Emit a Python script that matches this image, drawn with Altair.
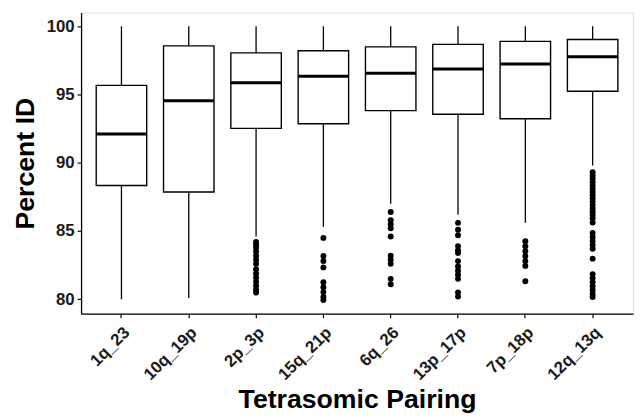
import altair as alt
import pandas as pd

categories = ["1q_23", "10q_19p", "2p_3p", "15q_21p", "6q_26", "13p_17p", "7p_18p", "12q_13q"]
whisker_low = [80.0, 80.1, 84.6, 85.3, 87.0, 86.2, 85.6, 89.8]
q1 = [88.34, 87.86, 92.52, 92.86, 93.82, 93.55, 93.22, 95.24]
median = [92.11, 94.54, 95.86, 96.34, 96.56, 96.87, 97.23, 97.76]
q3 = [95.67, 98.56, 98.05, 98.2, 98.49, 98.67, 98.89, 99.03]
whisker_high = [100.0, 100.0, 100.0, 100.0, 100.0, 100.0, 100.0, 100.0]

outliers = {
    "2p_3p": [84.2, 84.0, 83.8, 83.5, 83.2, 82.9, 82.6, 82.2, 81.9, 81.6, 81.3, 81.0, 80.7, 80.5],
    "15q_21p": [84.5, 83.17, 82.81, 82.34, 81.25, 80.89, 80.53, 80.17, 79.95],
    "6q_26": [86.4, 85.8, 85.5, 85.2, 84.6, 83.2, 82.9, 82.6, 81.5, 81.1],
    "13p_17p": [85.6, 85.1, 84.7, 83.9, 83.6, 83.4, 82.8, 82.4, 82.1, 81.8, 81.5, 80.5, 80.2],
    "7p_18p": [84.25, 83.89, 83.53, 83.17, 82.81, 82.45, 81.33],
    "12q_13q": [89.3, 89.06, 88.83, 88.57, 88.34, 88.1, 87.86, 87.62, 87.38, 87.14, 86.9,
                86.66, 86.42, 86.18, 85.94, 85.62, 84.86, 84.57, 84.28, 83.99, 83.71, 82.98,
                81.85, 81.54, 81.25, 80.96, 80.68, 80.39, 80.17],
}

summary = pd.DataFrame({
    "pairing": categories,
    "low": whisker_low,
    "q1": q1,
    "median": median,
    "q3": q3,
    "high": whisker_high,
})
out_df = pd.DataFrame(
    [(k, v) for k, vals in outliers.items() for v in vals],
    columns=["pairing", "value"],
)

FONT = "Liberation Sans"
H = 305

x_scale = alt.Scale(paddingInner=0.25, paddingOuter=0.225)
x_enc = alt.X(
    "pairing:N",
    sort=categories,
    scale=x_scale,
    axis=alt.Axis(
        title="Tetrasomic Pairing",
        labels=False,
        titleFontSize=27,
        titleFontWeight="bold",
        titleFont=FONT,
        titleColor="black",
        titleBaseline="alphabetic",
        titleY=95,
        domainColor="black",
        domainWidth=1.3,
        tickColor="black",
        tickWidth=1.2,
        tickSize=4,
        grid=False,
    ),
)

y_scale = alt.Scale(domain=[78.95, 101.0], nice=False, zero=False)
y_axis = alt.Axis(
    title="Percent ID",
    values=[80, 85, 90, 95, 100],
    labelFontSize=17,
    labelFontWeight="bold",
    labelColor="#1a1a1a",
    labelFont=FONT,
    labelPadding=3,
    titleFontSize=27,
    titleFontWeight="bold",
    titleFont=FONT,
    titleColor="black",
    titlePadding=7,
    domainColor="black",
    domainWidth=1.3,
    tickColor="black",
    tickWidth=1.2,
    tickSize=4,
    grid=False,
)

base = alt.Chart(summary)

whiskers = base.mark_rule(color="black", strokeWidth=1.3).encode(
    x=x_enc,
    y=alt.Y("low:Q", scale=y_scale, axis=y_axis),
    y2="high:Q",
)

boxes = base.mark_bar(fill="white", stroke="black", strokeWidth=1.4).encode(
    x=x_enc,
    y=alt.Y("q1:Q", scale=y_scale),
    y2="q3:Q",
)

medians = base.mark_tick(color="black", thickness=3, size=51, opacity=1).encode(
    x=x_enc,
    y=alt.Y("median:Q", scale=y_scale),
)

points = alt.Chart(out_df).mark_circle(color="black", size=36, opacity=1).encode(
    x=x_enc,
    y=alt.Y("value:Q", scale=y_scale),
)

labels = base.mark_text(
    angle=315,
    align="right",
    baseline="top",
    font=FONT,
    fontSize=17,
    fontWeight="bold",
    color="#1a1a1a",
).encode(
    x=x_enc,
    y=alt.value(H + 11),
    text="pairing:N",
)

chart = (
    alt.layer(whiskers, boxes, medians, points, labels)
    .properties(
        width=559,
        height=H,
        autosize=alt.AutoSizeParams(type="none"),
        padding={"left": 74, "top": 2, "right": 2, "bottom": 100},
    )
    .configure_view(stroke="transparent", strokeWidth=0)
    .configure(background="white")
)

chart.save("out.html", embed_options={"renderer": "svg", "actions": False})
